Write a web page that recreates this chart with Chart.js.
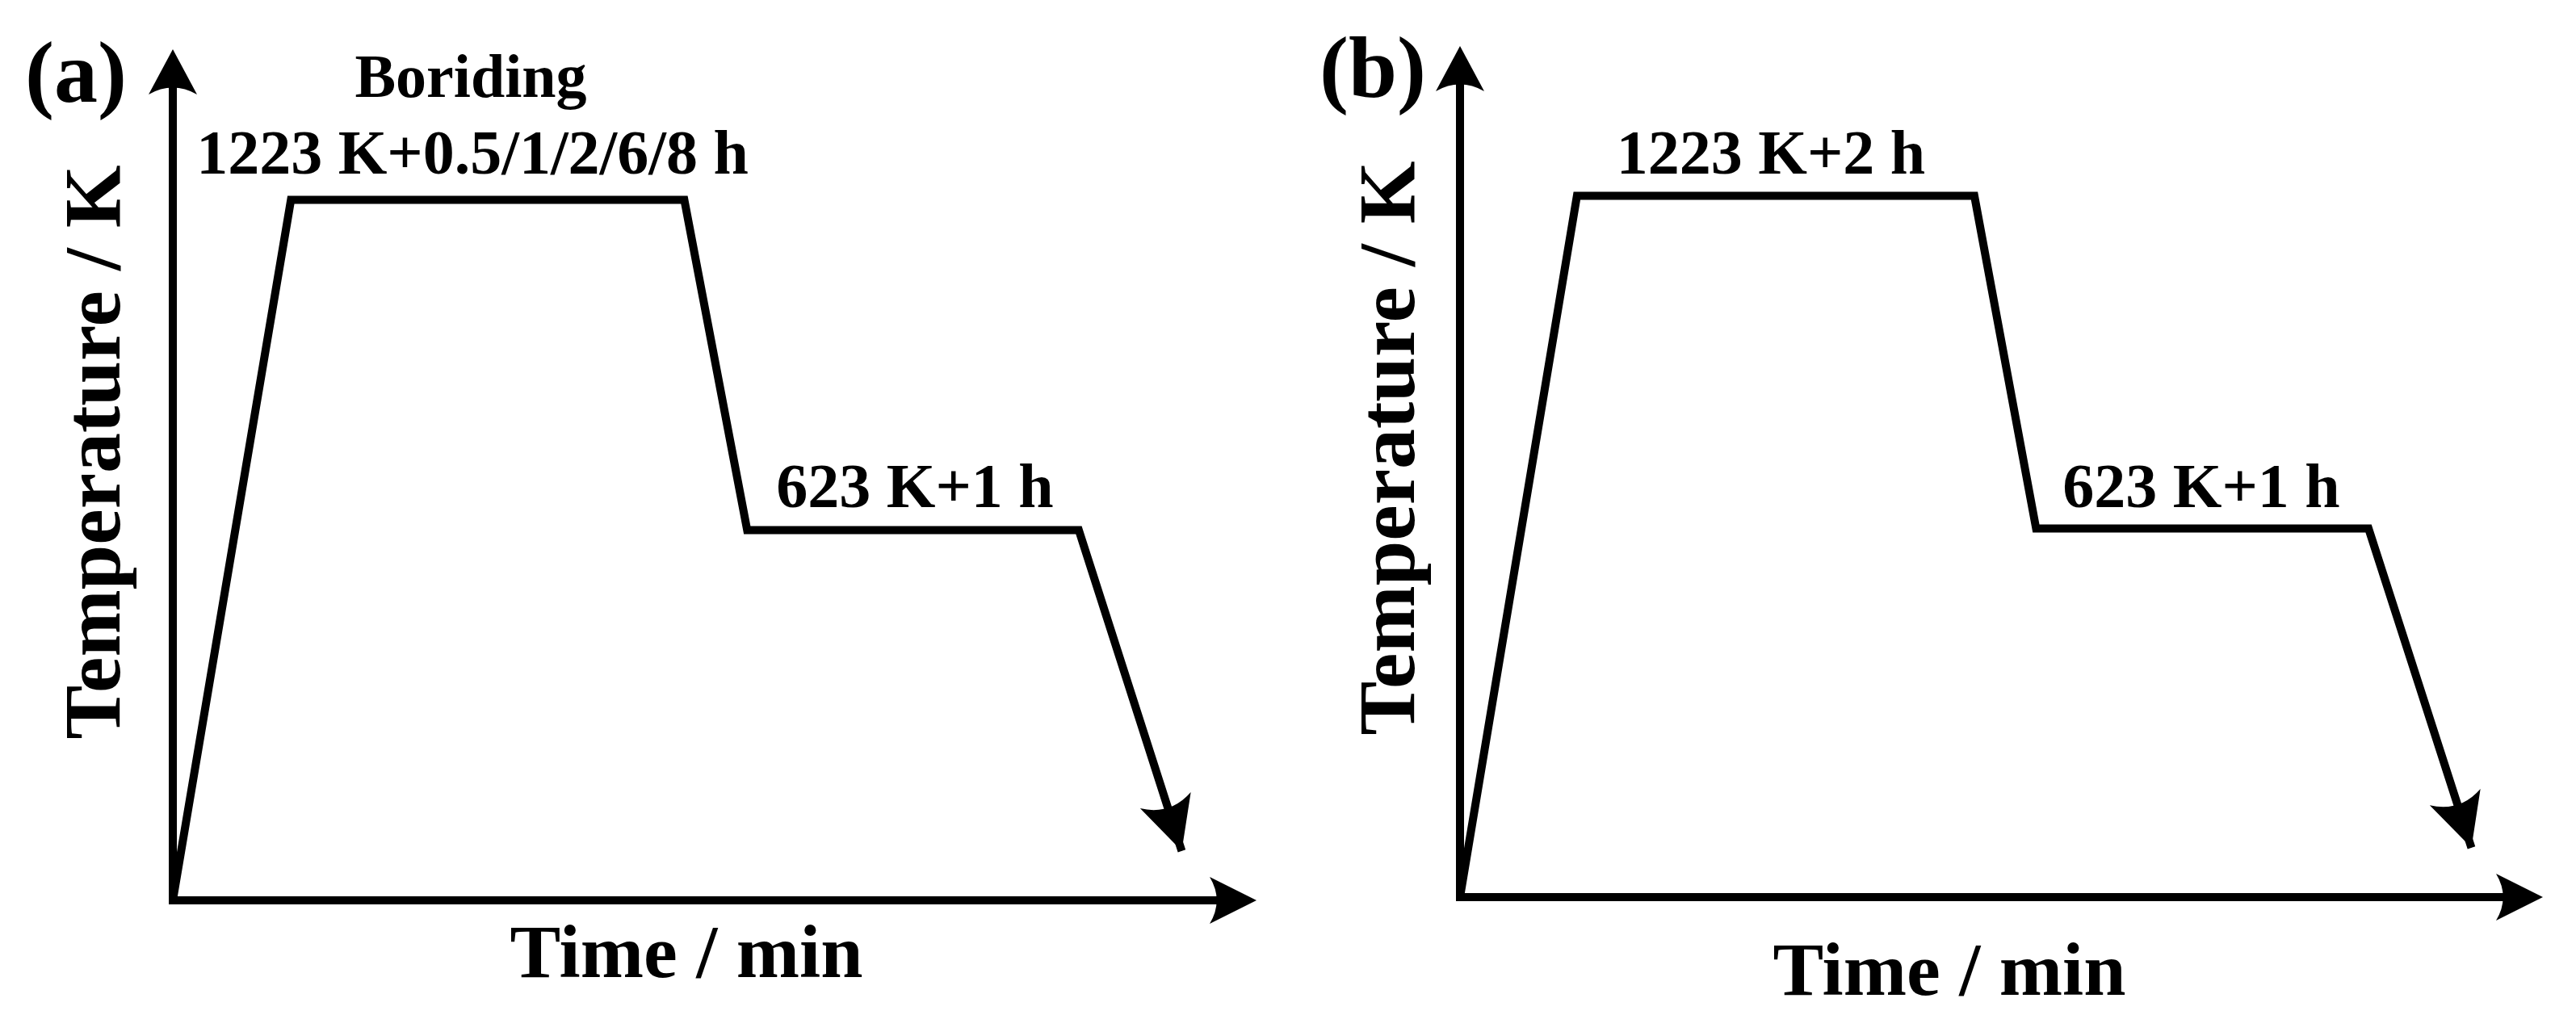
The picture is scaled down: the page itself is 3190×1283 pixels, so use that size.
<!DOCTYPE html>
<html><head><meta charset="utf-8">
<script src="https://cdn.jsdelivr.net/npm/chart.js@4"></script>
<style>html,body{margin:0;padding:0;background:#fff;overflow:hidden}
.w{position:absolute;top:0;width:1595px;height:1283px}canvas{display:block}</style>
</head><body>
<div class="w" style="left:0"><canvas id="a" width="1595" height="1283"></canvas></div>
<div class="w" style="left:1595px"><canvas id="b" width="1595" height="1283"></canvas></div>
<script>
// Panel (a) thermal cycle (arbitrary units 0-100)
const timeA = [0, 10.9, 47.2, 53.0, 83.6, 93.1];
const tempA = [0, 82.3, 82.3, 43.5, 43.5, 5.8];
// Panel (b)
const timeB = [0, 10.8, 47.5, 53.2, 83.9, 93.4];
const tempB = [0, 82.4, 82.4, 43.3, 43.3, 5.8];
const labelsA = ["(a)", "Boriding", "1223 K+0.5/1/2/6/8 h", "623 K+1 h"];
const labelsB = ["(b)", "1223 K+2 h", "623 K+1 h"];
const xTitle = "Time / min", yTitle = "Temperature / K";

function arrow(ctx, x1, y1, x2, y2, L, W) {
  const a = Math.atan2(y2 - y1, x2 - x1);
  ctx.save(); ctx.translate(x2, y2); ctx.rotate(a);
  ctx.beginPath(); ctx.moveTo(0, 0); ctx.lineTo(-L, -W);
  ctx.quadraticCurveTo(-L * 0.7, 0, -L, W); ctx.closePath();
  ctx.fillStyle = "#000"; ctx.fill(); ctx.restore();
}

function make(id, xs, ys, pad, texts) {
  const plug = {
    id: "deco",
    afterDatasetsDraw(ch) {
      const c = ch.ctx, sx = ch.scales.x, sy = ch.scales.y;
      const x0 = sx.getPixelForValue(0), y0 = sy.getPixelForValue(0);
      const xe = sx.getPixelForValue(100), ye = sy.getPixelForValue(100);
      c.save(); c.strokeStyle = "#000"; c.lineWidth = 10; c.lineCap = "butt";
      c.beginPath(); c.moveTo(x0, y0 + 5); c.lineTo(x0, ye + 40); c.stroke();
      c.beginPath(); c.moveTo(x0 - 5, y0); c.lineTo(xe - 40, y0); c.stroke();
      arrow(c, x0, y0, x0, ye, 56, 30);
      arrow(c, x0, y0, xe, y0, 58, 29);
      const n = xs.length;
      const px1 = sx.getPixelForValue(xs[n - 2]), py1 = sy.getPixelForValue(ys[n - 2]);
      const px2 = sx.getPixelForValue(xs[n - 1]), py2 = sy.getPixelForValue(ys[n - 1]);
      arrow(c, px1, py1, px2, py2, 66, 33);
      c.fillStyle = "#000"; c.textAlign = "center"; c.textBaseline = "middle";
      texts.forEach(t => {
        c.save(); c.font = "bold " + t.s + "px 'Liberation Serif'";
        c.translate(t.x, t.y); if (t.r) c.rotate(-Math.PI / 2);
        c.fillText(t.t, 0, 0); c.restore();
      });
      c.restore();
    }
  };
  new Chart(document.getElementById(id), {
    type: "line",
    data: { datasets: [{ data: xs.map((x, i) => ({ x, y: ys[i] })), borderColor: "#000",
      borderWidth: 10, pointRadius: 0, tension: 0, borderJoinStyle: "miter", fill: false }] },
    options: {
      responsive: false, animation: false, events: [],
      layout: { padding: pad },
      plugins: { legend: { display: false }, tooltip: { enabled: false } },
      scales: { x: { type: "linear", min: 0, max: 100, display: false },
                y: { min: 0, max: 100, display: false } }
    },
    plugins: [plug]
  });
}

make("a", timeA, tempA, { left: 214, right: 1595 - 1556, top: 61, bottom: 1283 - 1115 }, [
  { t: labelsA[0], x: 94, y: 98, s: 108 },
  { t: labelsA[1], x: 583, y: 100, s: 76 },
  { t: labelsA[2], x: 585, y: 195, s: 78 },
  { t: labelsA[3], x: 1133, y: 608, s: 78 },
  { t: xTitle, x: 850, y: 1186, s: 94 },
  { t: yTitle, x: 122, y: 560, s: 100, r: true }
]);
make("b", timeB, tempB, { left: 213, right: 1595 - 1554, top: 57, bottom: 1283 - 1111 }, [
  { t: labelsB[0], x: 1700 - 1595, y: 92, s: 108 },
  { t: labelsB[1], x: 2193 - 1595, y: 195, s: 78 },
  { t: labelsB[2], x: 2726 - 1595, y: 608, s: 78 },
  { t: xTitle, x: 2414 - 1595, y: 1208, s: 94 },
  { t: yTitle, x: 1725 - 1595, y: 555, s: 100, r: true }
]);
</script>
</body></html>
